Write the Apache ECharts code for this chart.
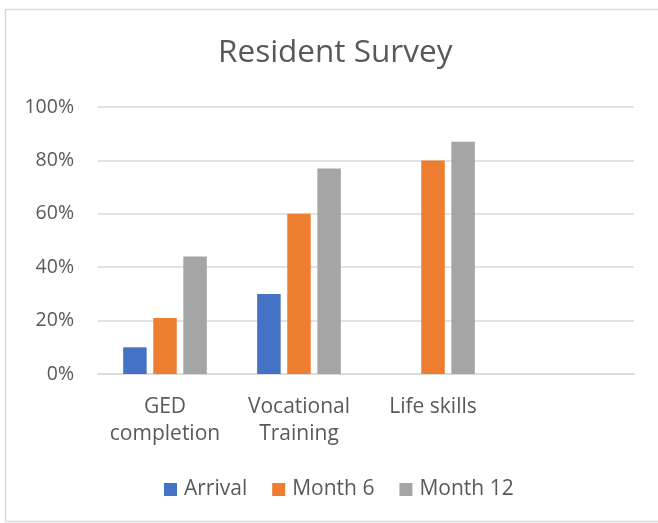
<!DOCTYPE html>
<html>
<head>
<meta charset="utf-8">
<script src="https://cdn.jsdelivr.net/npm/echarts@6/dist/echarts.min.js"></script>
<style>html,body{margin:0;padding:0;background:#fff}#c{width:658px;height:523px}</style>
</head>
<body>
<div id="c"></div>
<script>
const categories = ['GED\ncompletion', 'Vocational\nTraining', 'Life skills', ''];
const arrival = [10, 30, null, null];
const month6 = [21, 60, 80, null];
const month12 = [44, 77, 87, null];
const yTicks = [0, 20, 40, 60, 80, 100];

const textColor = '#595959';
const font = '"Open Sans", Lato, sans-serif';
const chart = echarts.init(document.getElementById('c'), null, {renderer: 'canvas'});
chart.setOption({
  animation: false,
  backgroundColor: '#fff',
  graphic: [{
    type: 'rect', left: 3, top: 7, shape: {width: 660, height: 512},
    style: {fill: 'none', stroke: '#D9D9D9', lineWidth: 1.5}, silent: true, z: -1
  }],
  title: {
    text: 'Resident Survey', left: 213, top: 32,
    textStyle: {fontFamily: font, fontSize: 31.5, fontWeight: 'normal', color: textColor}
  },
  legend: {
    bottom: 18, left: 159, itemWidth: 13, itemHeight: 13, itemGap: 25,
    icon: 'rect',
    textStyle: {fontFamily: font, fontSize: 21, color: textColor, padding: [0, 0, 0, 2]},
    data: ['Arrival', 'Month 6', 'Month 12']
  },
  grid: {left: 98, right: 24, top: 107, bottom: 149, containLabel: false},
  xAxis: {
    type: 'category', data: categories, boundaryGap: true,
    axisLine: {lineStyle: {color: '#D9D9D9', width: 1.5}},
    axisTick: {show: false},
    axisLabel: {fontFamily: font, fontSize: 21, color: textColor, margin: 20, lineHeight: 27, interval: 0}
  },
  yAxis: {
    type: 'value', min: 0, max: 100, interval: 20,
    axisLine: {show: false}, axisTick: {show: false},
    splitLine: {lineStyle: {color: '#D9D9D9', width: 1.5}},
    axisLabel: {fontFamily: font, fontSize: 19.5, color: textColor, margin: 24,
      formatter: v => yTicks.includes(v) ? v + '%' : ''}
  },
  series: [
    {name: 'Arrival', type: 'bar', data: arrival, barWidth: 23.5, barGap: '28%', itemStyle: {color: '#4472C4'}},
    {name: 'Month 6', type: 'bar', data: month6, barWidth: 23.5, barGap: '28%', itemStyle: {color: '#ED7D31'}},
    {name: 'Month 12', type: 'bar', data: month12, barWidth: 23.5, barGap: '28%', itemStyle: {color: '#A5A5A5'}}
  ]
});
</script>
</body>
</html>
